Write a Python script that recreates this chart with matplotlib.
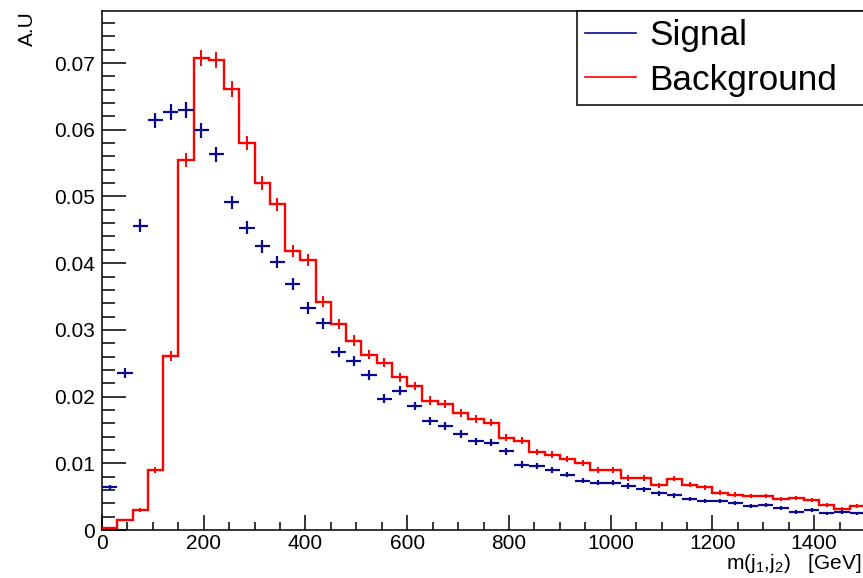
import numpy as np
import matplotlib
matplotlib.use("Agg")
import matplotlib.pyplot as plt
from matplotlib.lines import Line2D
from matplotlib.ticker import MultipleLocator

plt.rcParams['font.family'] = ['Liberation Sans', 'DejaVu Sans']
plt.rcParams['mathtext.fontset'] = 'custom'
plt.rcParams['mathtext.rm'] = 'Liberation Sans'
plt.rcParams['mathtext.it'] = 'Liberation Sans'

# ---- data (bins of 30 GeV from 0 to 1500) ----
bin_width = 30
n_bins = 50

signal = [0.0064, 0.0235, 0.0456, 0.0614, 0.0627, 0.0630, 0.0599, 0.0563, 0.0491, 0.0453,
          0.0425, 0.0402, 0.0369, 0.0333, 0.0310, 0.0267, 0.0254, 0.0232, 0.0197, 0.0209,
          0.0186, 0.0164, 0.0156, 0.0144, 0.0133, 0.0131, 0.0118, 0.0098, 0.0096, 0.0090,
          0.0083, 0.0074, 0.0071, 0.0071, 0.0066, 0.0061, 0.0055, 0.0052, 0.0047, 0.0044,
          0.0044, 0.0040, 0.0036, 0.0038, 0.0033, 0.0027, 0.0030, 0.0025, 0.0027, 0.0025]
signal_err = [0.00038, 0.00072, 0.00100, 0.00116, 0.00118, 0.00118, 0.00115, 0.00112, 0.00104, 0.00100,
              0.00097, 0.00094, 0.00090, 0.00086, 0.00083, 0.00077, 0.00075, 0.00072, 0.00066, 0.00068,
              0.00064, 0.00060, 0.00059, 0.00056, 0.00054, 0.00054, 0.00051, 0.00047, 0.00046, 0.00045,
              0.00043, 0.00040, 0.00040, 0.00040, 0.00038, 0.00037, 0.00035, 0.00034, 0.00032, 0.00031,
              0.00031, 0.00030, 0.00028, 0.00029, 0.00027, 0.00024, 0.00026, 0.00024, 0.00024, 0.00024]

background = [0.0003, 0.0015, 0.0030, 0.0090, 0.0261, 0.0555, 0.0707, 0.0704, 0.0661, 0.0580,
              0.0520, 0.0488, 0.0418, 0.0405, 0.0342, 0.0309, 0.0284, 0.0263, 0.0251, 0.0229,
              0.0216, 0.0194, 0.0189, 0.0176, 0.0166, 0.0161, 0.0138, 0.0134, 0.0117, 0.0113,
              0.0106, 0.0101, 0.0090, 0.0090, 0.0078, 0.0078, 0.0067, 0.0077, 0.0068, 0.0064,
              0.0056, 0.0053, 0.0051, 0.0051, 0.0046, 0.0048, 0.0045, 0.0038, 0.0032, 0.0036]
background_err = [0.00008, 0.00018, 0.00025, 0.00043, 0.00073, 0.00106, 0.00120, 0.00120, 0.00116, 0.00108,
                  0.00103, 0.00099, 0.00092, 0.00091, 0.00083, 0.00079, 0.00076, 0.00073, 0.00071, 0.00068,
                  0.00066, 0.00063, 0.00062, 0.00060, 0.00058, 0.00057, 0.00053, 0.00052, 0.00049, 0.00048,
                  0.00046, 0.00045, 0.00043, 0.00043, 0.00040, 0.00040, 0.00037, 0.00039, 0.00037, 0.00036,
                  0.00034, 0.00033, 0.00032, 0.00032, 0.00031, 0.00031, 0.00030, 0.00028, 0.00025, 0.00027]

labels = ["Signal", "Background"]
x_title = r"m(j$_{\mathrm{1}}$,j$_{\mathrm{2}}$)   [GeV]"
y_title = "A.U"

edges = np.arange(n_bins + 1) * bin_width
centers = edges[:-1] + bin_width / 2

# ---- figure ----
fig = plt.figure(figsize=(8.63, 5.78), dpi=100)
ax = fig.add_axes([102 / 863, 48 / 578, 763 / 863, (530 - 11) / 578])

sig_col = '#0a0a90'
bkg_col = '#ff0000'

ax.stairs(background, edges, baseline=None, color=bkg_col, lw=1.7, zorder=3)
ax.errorbar(centers, background, yerr=background_err, fmt='none', ecolor=bkg_col,
            elinewidth=1.4, capsize=0, zorder=3)
ax.errorbar(centers, signal, xerr=bin_width / 2, yerr=signal_err, fmt='none',
            ecolor=sig_col, elinewidth=1.6, capsize=0, zorder=4)

ax.set_xlim(0, 1500)
ax.set_ylim(0, 0.0778)

ax.xaxis.set_major_locator(MultipleLocator(200))
ax.xaxis.set_minor_locator(MultipleLocator(50))
ax.yaxis.set_major_locator(MultipleLocator(0.01))
ax.yaxis.set_minor_locator(MultipleLocator(0.002))
ax.yaxis.set_major_formatter(matplotlib.ticker.FuncFormatter(
    lambda v, p: "0" if abs(v) < 1e-12 else f"{v:.2f}"))

ax.tick_params(axis='both', which='both', direction='in', colors='black',
               labelsize=15, width=1.1, top=False, right=False)
ax.tick_params(axis='y', which='major', length=17, pad=5)
ax.tick_params(axis='y', which='minor', length=9.5)
ax.tick_params(axis='x', which='major', length=11, pad=3)
ax.tick_params(axis='x', which='minor', length=6)

for s in ax.spines.values():
    s.set_linewidth(1.1)
    s.set_color('black')

ax.set_xlabel(x_title, fontsize=15, ha='right', va='top')
ax.xaxis.set_label_coords((861 - 102) / 763, -0.043)
ax.set_ylabel(y_title, loc='top', fontsize=15)
ax.yaxis.set_label_coords(-0.085, 1.0)

handles = [Line2D([], [], color=sig_col, lw=1.2), Line2D([], [], color=bkg_col, lw=1.2)]
leg = ax.legend(handles, labels, loc='upper left',
                bbox_to_anchor=((577 - 102) / 763, 0.0, 1.0 - (577 - 102) / 763 + 0.01, 1.0),
                mode='expand', fontsize=25.3, frameon=True, fancybox=False,
                edgecolor='black', framealpha=1, borderpad=0.24, labelspacing=0.32,
                handlelength=1.44, handletextpad=0.38, borderaxespad=0)
leg.get_frame().set_linewidth(1.1)

fig.savefig("out.png", dpi=100)
